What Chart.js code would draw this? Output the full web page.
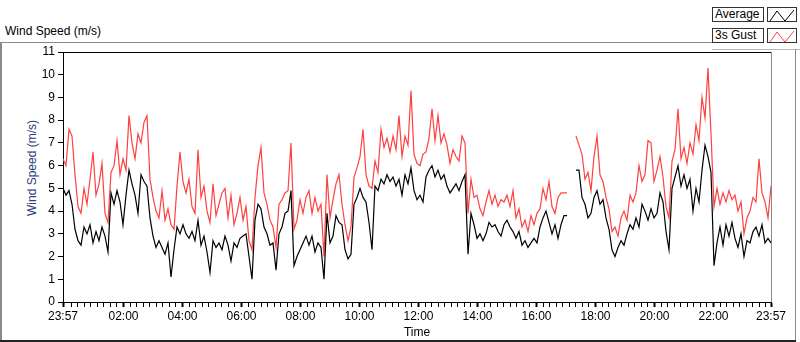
<!DOCTYPE html>
<html>
<head>
<meta charset="utf-8">
<script src="https://cdn.jsdelivr.net/npm/chart.js@4/dist/chart.umd.min.js"></script>
<style>
  html, body { margin: 0; padding: 0; background: #fff; }
  #wrap { position: relative; width: 800px; height: 342px; overflow: hidden; font-family: "Liberation Sans", Arial, sans-serif; }
  #c { position: absolute; left: 0; top: 0; }
  .ln { position: absolute; }
  #title { position: absolute; left: 5px; top: 24px; font-size: 12px; color: #000; white-space: nowrap; }
  #ytitle { position: absolute; left: 32px; top: 168px; font-size: 12px; color: #2b3c7a; white-space: nowrap; transform: translate(-50%, -50%) rotate(-90deg); }
  .lg { position: absolute; left: 712px; width: 48px; height: 13px; border: 1px solid #333; background: #fff; font-size: 12px; line-height: 13px; padding-left: 2px; box-sizing: content-box; }
  .ic { position: absolute; left: 767px; width: 28px; height: 13px; border: 1px solid #333; background: #fff; }
</style>
</head>
<body>
<div id="wrap">
  <div class="ln" style="left:0;top:42px;width:713px;height:1px;background:#8a8a8a"></div>
  <div class="ln" style="left:712px;top:49px;width:88px;height:1px;background:#b8b8b8"></div>
  <div class="ln" style="left:0;top:42px;width:2px;height:300px;background:#8a8a8a"></div>
  <div class="ln" style="left:795px;top:49px;width:1px;height:293px;background:#8a8a8a"></div>
  <div class="ln" style="left:0;top:340px;width:796px;height:2px;background:#222"></div>
  <div id="title">Wind Speed (m/s)</div>
  <div id="ytitle">Wind Speed (m/s)</div>
  <div class="lg" style="top:7px">Average</div>
  <div class="ic" style="top:7px"><svg width="28" height="13"><polyline points="2,12 9,2 17,12 26,1" fill="none" stroke="#000" stroke-width="1"/></svg></div>
  <div class="lg" style="top:28px">3s Gust</div>
  <div class="ic" style="top:28px"><svg width="28" height="13"><polyline points="2,12 9,2 17,12 26,1" fill="none" stroke="#ff4040" stroke-width="1"/></svg></div>
  <canvas id="c" width="800" height="342"></canvas>
</div>
<script>
var AVG = [
  5.0,4.7,4.9,4.3,3.2,2.7,2.5,3.3,3.0,3.4,
  2.6,3.1,2.7,3.3,2.9,2.2,4.8,4.3,4.9,4.4,
  3.4,4.7,5.8,5.2,4.7,3.9,5.6,5.3,5.1,3.7,
  2.9,2.4,2.7,2.4,2.1,2.6,1.1,2.3,3.3,3.0,
  3.4,3.0,2.8,3.1,2.7,3.6,2.5,2.9,2.2,1.3,
  2.7,2.4,2.6,2.3,2.9,2.5,1.8,2.6,2.4,2.8,
  2.9,3.0,2.0,1.0,3.6,4.3,4.1,3.3,3.0,2.5,
  2.6,1.4,3.0,3.3,3.9,4.0,4.9,1.6,2.0,2.3,
  2.6,2.9,2.5,2.9,2.2,2.6,2.4,1.0,3.9,2.6,
  2.9,3.8,3.5,3.4,2.3,1.9,2.1,4.3,4.6,5.0,
  4.6,4.4,3.5,2.3,5.1,4.9,5.4,5.2,5.6,5.3,
  5.5,5.1,5.4,4.7,5.6,5.2,5.9,4.9,4.5,
  4.7,4.4,5.5,5.8,6.0,5.5,5.8,5.4,5.6,5.1,
  4.8,5.0,5.2,4.9,5.3,5.6,2.1,3.9,3.4,2.8,
  3.0,2.7,3.0,3.5,3.3,3.4,3.1,2.9,3.4,3.6,
  3.3,3.1,2.8,3.1,2.5,2.7,2.4,2.6,2.8,2.6,
  3.3,3.7,4.0,3.5,3.0,3.4,2.8,3.4,3.8,3.8,
  null,null,
  5.8,5.8,4.6,4.3,3.7,3.9,
  4.6,4.9,4.3,4.5,3.7,3.2,2.3,2.0,2.4,2.7,
  2.5,3.0,3.4,3.2,3.7,3.3,4.3,4.0,3.6,4.1,
  3.7,3.9,4.8,4.4,3.1,2.3,5.0,5.5,6.0,5.1,
  5.6,5.0,5.4,4.0,5.0,4.4,5.8,6.9,6.4,5.7,
  1.6,2.6,3.3,2.5,3.4,2.9,3.5,2.8,2.4,3.0,
  2.0,2.7,2.6,3.1,3.3,2.9,3.4,2.6,2.8,2.6
];
var GUST = [
  6.3,6.0,7.6,7.3,5.6,4.2,3.9,5.0,4.3,5.4,
  6.6,4.7,5.2,6.1,3.9,3.5,5.7,6.0,7.1,5.6,
  6.3,5.8,8.2,7.0,6.3,7.4,7.0,7.9,8.2,5.4,
  4.6,4.0,3.7,4.9,3.6,4.1,3.4,3.2,5.1,6.6,
  5.3,4.8,5.4,4.2,3.9,6.7,4.6,5.1,4.0,3.5,
  5.2,3.8,4.3,4.8,5.0,3.7,4.7,3.4,3.9,4.6,
  3.6,4.2,2.7,2.3,4.6,6.0,6.8,4.8,4.3,3.6,
  3.3,2.4,4.3,4.5,4.8,4.9,7.0,3.2,3.6,4.5,
  3.9,4.6,4.9,3.9,4.6,4.0,4.3,2.0,5.6,3.7,
  4.5,5.2,5.6,4.3,3.4,2.7,3.3,5.5,5.9,6.4,
  7.6,5.6,5.1,5.0,6.2,5.7,7.6,6.8,7.2,6.6,
  7.3,6.7,8.2,6.4,7.3,6.9,9.3,6.5,6.1,
  6.0,6.5,6.6,7.2,8.5,7.1,8.2,7.0,7.4,6.9,
  6.1,6.7,6.4,6.2,7.3,7.0,3.9,5.4,4.6,4.7,
  4.1,3.8,4.4,4.9,4.3,4.7,4.2,4.5,4.4,4.7,
  4.2,4.9,3.7,4.1,3.3,3.6,3.1,3.8,3.4,3.9,
  4.1,5.0,4.5,5.3,4.2,3.9,4.6,4.8,4.8,4.8,
  null,null,
  7.3,6.9,6.5,5.4,5.7,4.9,
  6.4,7.3,5.6,5.3,4.6,4.1,3.1,3.3,2.9,3.7,
  4.0,3.6,4.7,4.4,4.8,6.0,5.3,5.6,7.1,7.0,
  5.3,5.8,6.4,5.5,4.2,3.7,6.2,6.7,8.5,6.3,
  6.8,6.1,7.0,6.5,7.8,7.1,9.0,8.1,10.3,7.4,
  4.2,5.0,4.3,4.8,4.4,4.9,4.5,4.7,4.0,4.4,
  3.0,3.7,4.0,4.6,4.4,6.3,4.8,4.4,3.7,5.1
];
// minutes since 23:57, one sample every ~6.1 min
var STEP_MIN = 1440 / 236;
var TICK_MIN = [0, 123, 243, 363, 483, 603, 723, 843, 963, 1083, 1203, 1323, 1440];
var TICK_LABELS = ["23:57", "02:00", "04:00", "06:00", "08:00", "10:00", "12:00", "14:00", "16:00", "18:00", "20:00", "22:00", "23:57"];
var Y_MIN = 0, Y_MAX = 11;

var INK = "#000";
var GUST_RED = "#ff4040";
var FRAME_GRAY = "#8a8a8a";
var FONT = { family: "'Liberation Sans', Arial, sans-serif", size: 12 };

function toPoints(arr) {
  return arr.map(function (v, i) { return { x: i * STEP_MIN, y: v }; });
}

var frame = {
  id: "frame",
  afterDraw: function (ch) {
    var a = ch.chartArea, c = ch.ctx;
    c.save();
    c.lineWidth = 1;
    c.strokeStyle = INK;
    c.beginPath(); c.moveTo(a.left, a.top + 0.5); c.lineTo(a.right, a.top + 0.5); c.stroke();
    c.strokeStyle = FRAME_GRAY;
    c.beginPath(); c.moveTo(a.right + 0.5, a.top); c.lineTo(a.right + 0.5, a.bottom); c.stroke();
    c.restore();
  }
};

new Chart(document.getElementById("c"), {
  type: "line",
  data: {
    datasets: [
      { label: "Average", data: toPoints(AVG), borderColor: INK, borderWidth: 1.2, pointRadius: 0, tension: 0, spanGaps: false },
      { label: "3s Gust", data: toPoints(GUST), borderColor: GUST_RED, borderWidth: 1.2, pointRadius: 0, tension: 0, spanGaps: false }
    ]
  },
  options: {
    responsive: false, animation: false,
    layout: { padding: { left: 0, right: 29, top: 52, bottom: 0 } },
    plugins: { legend: { display: false }, tooltip: { enabled: false } },
    scales: {
      x: {
        type: "linear", min: 0, max: 1440,
        afterBuildTicks: function (s) {
          var t = TICK_MIN.map(function (v) { return { value: v }; });
          for (var m = 123 - 9 * 40 / 3; m < 1440; m += 40 / 3) {
            var near = TICK_MIN.some(function (v) { return Math.abs(v - m) < 4; });
            if (!near && m > 4 && m < 1436) t.push({ value: m });
          }
          t.sort(function (a, b) { return a.value - b.value; });
          s.ticks = t;
        },
        afterFit: function (s) { s.height = 40; },
        ticks: {
          autoSkip: false, maxRotation: 0, padding: 2, color: INK, font: FONT,
          callback: function (v) { var i = TICK_MIN.indexOf(v); return i >= 0 ? TICK_LABELS[i] : ""; }
        },
        grid: {
          drawOnChartArea: false, tickLength: 5, tickColor: INK,
          tickWidth: function (c) { return c.tick && TICK_MIN.indexOf(c.tick.value) >= 0 ? 2 : 1; }
        },
        border: { color: INK, width: 1 },
        title: { display: true, text: "Time", color: INK, padding: { top: 0, bottom: 2 }, font: FONT }
      },
      y: {
        min: Y_MIN, max: Y_MAX,
        afterFit: function (s) { s.width = 63; },
        ticks: { stepSize: 1, padding: 3, color: INK, font: FONT },
        grid: { drawOnChartArea: false, tickLength: 5, tickColor: INK },
        border: { color: INK, width: 1 }
      }
    }
  },
  plugins: [frame]
});
</script>
</body>
</html>
